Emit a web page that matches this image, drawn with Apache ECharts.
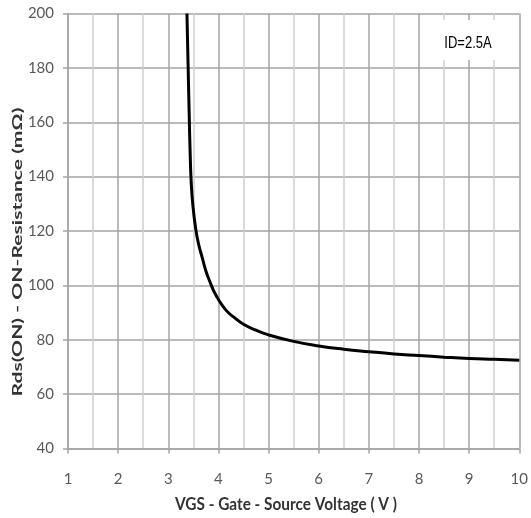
<!DOCTYPE html>
<html><head><meta charset="utf-8">
<script src="https://cdn.jsdelivr.net/npm/echarts@6/dist/echarts.min.js"></script>
<style>html,body{margin:0;padding:0;background:#fff}#c{width:531px;height:518px}</style>
</head><body><div id="c"></div>
<script>
const vgs = [3.372,3.395,3.418,3.437,3.457,3.49,3.545,3.6,3.68,3.75,3.82,3.9,4.0,4.15,4.3,4.5,4.75,5,5.5,6,6.5,7,7.5,8,8.5,9,9.5,10];
const rds = [200,181,162,148,138,129.5,121,115.5,110,105.3,101.8,98.2,94.8,90.9,88.4,85.7,83.5,81.8,79.4,77.7,76.5,75.6,74.8,74.2,73.6,73.1,72.8,72.5];
const xTicks = [1,2,3,4,5,6,7,8,9,10];
const yTicks = [40,60,80,100,120,140,160,180,200];
const xTitle = 'VGS - Gate - Source Voltage ( V )';
const yTitle = 'Rds(ON) - ON-Resistance (mΩ)';
const note = 'ID=2.5A';

function measure(txt, font){const c=document.createElement('canvas').getContext('2d');c.font=font;return c.measureText(txt).width;}
const titleFont = 'bold 13px Lato';
const xScale = 222 / measure(xTitle, titleFont);
const yScale = 289 / measure(yTitle, titleFont);

const chart = echarts.init(document.getElementById('c'), null, {renderer:'canvas'});
const gridCol = '#a4a4a4';
chart.setOption({
  animation:false,
  backgroundColor:'#fff',
  grid:{left:68,right:10,top:13.5,bottom:69.5,containLabel:false},
  xAxis:{type:'value',min:xTicks[0],max:xTicks[xTicks.length-1],interval:1,
    axisLine:{show:true,onZero:false,lineStyle:{color:gridCol,width:1.5}},
    axisTick:{show:true,length:5,lineStyle:{color:gridCol,width:1.5}},
    axisLabel:{margin:23,color:'#595959',fontFamily:'Lato',fontSize:15,
      formatter:v=>xTicks.includes(v)?String(v):''},
    splitLine:{show:true,lineStyle:{color:gridCol,width:1.5}},
    minorTick:{show:false,splitNumber:2},
    minorSplitLine:{show:true,lineStyle:{color:'#d0d0d0',width:1.5}}
  },
  yAxis:{type:'value',min:yTicks[0],max:yTicks[yTicks.length-1],interval:20,
    axisLine:{show:true,lineStyle:{color:gridCol,width:1.5}},
    axisTick:{show:true,length:5,lineStyle:{color:gridCol,width:1.5}},
    axisLabel:{margin:14,color:'#595959',fontFamily:'Lato',fontSize:15,
      formatter:v=>yTicks.includes(v)?String(v):''},
    splitLine:{show:true,lineStyle:{color:gridCol,width:1.5}}
  },
  series:[{type:'line',data:vgs.map((x,i)=>[x,rds[i]]),showSymbol:false,smooth:0.5,
    lineStyle:{color:'#000',width:3},clip:true}],
  graphic:[
    {type:'rect',left:428,top:20,shape:{width:80,height:40},style:{fill:'#fff'},z:10},
    {type:'text',x:468,y:43,scaleX:1,scaleY:1.3,z:11,
      style:{text:note,font:'13px "Liberation Sans"',fill:'#000',align:'center',verticalAlign:'middle'}},
    {type:'text',x:286,y:505,scaleX:xScale,scaleY:1.3,z:11,
      style:{text:xTitle,font:titleFont,fill:'#333',align:'center',verticalAlign:'middle'}},
    {type:'text',x:18,y:252,rotation:Math.PI/2,scaleX:yScale,scaleY:1.0,z:11,
      style:{text:yTitle,font:titleFont,fill:'#333',align:'center',verticalAlign:'middle'}}
  ]
});
</script></body></html>
